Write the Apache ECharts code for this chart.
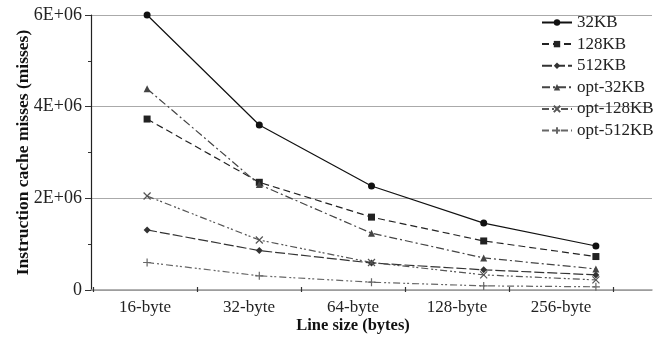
<!DOCTYPE html>
<html>
<head>
<meta charset="utf-8">
<script src="https://cdn.jsdelivr.net/npm/echarts@6/dist/echarts.min.js"></script>
<style>
  html, body { margin: 0; padding: 0; background: #fff; }
  #chart { width: 661px; height: 339px; }
</style>
</head>
<body>
<div id="chart"></div>
<script>
const categories = ['16-byte', '32-byte', '64-byte', '128-byte', '256-byte'];
const yTicks = [0, 2e6, 4e6, 6e6];

const kb32 = [6.0e6, 3.6e6, 2.27e6, 1.46e6, 0.96e6];
const kb128 = [3.73e6, 2.35e6, 1.59e6, 1.07e6, 0.73e6];
const kb512 = [1.31e6, 0.86e6, 0.59e6, 0.44e6, 0.33e6];
const opt32 = [4.39e6, 2.3e6, 1.24e6, 0.7e6, 0.46e6];
const opt128 = [2.05e6, 1.09e6, 0.6e6, 0.33e6, 0.22e6];
const opt512 = [0.6e6, 0.31e6, 0.17e6, 0.09e6, 0.07e6];

const FONT = 'Liberation Serif';
const crossPath = 'path://M0,0L10,10M10,0L0,10';
const plusPath = 'path://M5,0L5,10M0,5L10,5';

function makeSeries(name, data, color, dash, symbol, size, hollow) {
  return {
    name: name,
    type: 'line',
    xAxisIndex: 0,
    yAxisIndex: 0,
    data: data,
    symbol: symbol,
    symbolSize: size,
    lineStyle: { color: color, width: 1.2, type: dash },
    itemStyle: hollow
      ? { color: 'rgba(0,0,0,0)', borderColor: color, borderWidth: 1.2 }
      : { color: color },
    emphasis: { disabled: true },
    animation: false
  };
}

const chart = echarts.init(document.getElementById('chart'));
chart.setOption({
  backgroundColor: '#fff',
  animation: false,
  textStyle: { fontFamily: FONT, color: '#222' },
  grid: [
    { left: 91, right: 9, top: 15, bottom: 49 },
    { left: 93, width: 520, top: 15, bottom: 49 }
  ],
  legend: {
    orient: 'vertical',
    left: 536,
    top: 9,
    itemWidth: 30,
    itemHeight: 8,
    itemGap: 4.6,
    textStyle: { fontFamily: FONT, fontSize: 17, color: '#222', lineHeight: 17 },
    data: ['32KB', '128KB', '512KB', 'opt-32KB', 'opt-128KB', 'opt-512KB']
  },
  xAxis: [
    {
      type: 'category',
      gridIndex: 0,
      data: categories,
      boundaryGap: true,
      axisLine: { lineStyle: { color: '#999', width: 1.5 } },
      axisTick: { show: false },
      axisLabel: { show: false },
      splitLine: { show: false }
    },
    {
      type: 'category',
      gridIndex: 1,
      data: categories,
      boundaryGap: true,
      axisLine: { show: false },
      axisTick: { show: true, length: 5, lineStyle: { color: '#333', width: 1.2 } },
      axisLabel: { fontFamily: FONT, fontSize: 17, color: '#222', margin: 12,
        interval: 0 },
      name: 'Line size (bytes)',
      nameLocation: 'middle',
      nameGap: 30,
      nameMoveOverlap: false,
      nameTextStyle: { fontFamily: FONT, fontSize: 16.5, fontWeight: 'bold', color: '#111' }
    }
  ],
  yAxis: [
    {
      type: 'value',
      gridIndex: 0,
      min: yTicks[0],
      max: yTicks[yTicks.length - 1],
      interval: 2e6,
      axisLine: { show: true, lineStyle: { color: '#222', width: 1.2 } },
      axisTick: { show: true, length: 6, lineStyle: { color: '#333' } },
      minorTick: { show: true, splitNumber: 2, length: 3, lineStyle: { color: '#333' } },
      splitLine: { show: true, lineStyle: { color: '#aaa', width: 1.2 } },
      axisLabel: {
        fontFamily: FONT, fontSize: 18, color: '#222', margin: 9,
        formatter: v => v === 0 ? '0' : (v / 1e6) + 'E+06'
      },
      name: 'Instruction cache misses (misses)',
      nameLocation: 'middle',
      nameGap: 59,
      nameMoveOverlap: false,
      nameTextStyle: { fontFamily: FONT, fontSize: 17.5, fontWeight: 'bold', color: '#111' }
    },
    {
      type: 'value',
      gridIndex: 1,
      show: false,
      min: 0,
      max: 6e6
    }
  ],
  series: [
    makeSeries('32KB', kb32, '#111', 'solid', 'circle', 7, false),
    makeSeries('128KB', kb128, '#222', [7, 4], 'rect', 7, false),
    makeSeries('512KB', kb512, '#333', [10, 3], 'diamond', 7, false),
    makeSeries('opt-32KB', opt32, '#444', [8, 3, 2, 3], 'triangle', 7, false),
    makeSeries('opt-128KB', opt128, '#555', [7, 3, 2, 2, 2, 3], crossPath, 7, true),
    makeSeries('opt-512KB', opt512, '#666', [7, 3, 2, 2, 2, 3], plusPath, 8, true)
  ]
});
</script>
</body>
</html>
